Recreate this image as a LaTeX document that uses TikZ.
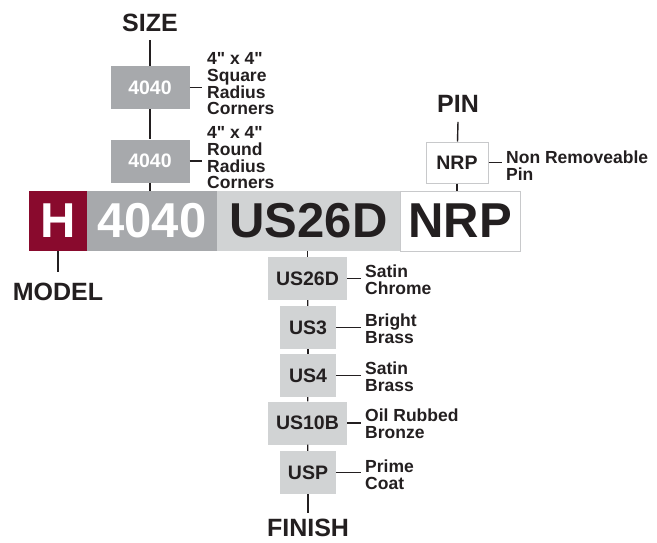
\documentclass[tikz,border=0pt]{standalone}
\usepackage{fontspec}
\setmainfont{Liberation Sans}[Ligatures=TeXOff]
\definecolor{ink}{RGB}{35,31,32}
\definecolor{midgray}{RGB}{167,169,172}
\definecolor{lgray}{RGB}{209,211,212}
\definecolor{bordergray}{RGB}{200,201,203}
\definecolor{maroonH}{RGB}{137,10,45}
\begin{document}
\begin{tikzpicture}[x=1pt,y=-1pt,
  conn/.style={draw=ink, line width=1.4pt},
  seg/.style={minimum height=60pt, inner sep=0pt, font=\fontsize{49}{49}\selectfont\bfseries},
  sbox/.style={fill=midgray, minimum width=79pt, minimum height=43pt, inner sep=0pt, text=white, font=\fontsize{19.5}{20}\selectfont\bfseries},
  fbox/.style={fill=lgray, minimum height=43pt, inner sep=0pt, text=ink, font=\fontsize{19.5}{20}\selectfont\bfseries},
  pbox/.style={fill=white, draw=bordergray, line width=1pt, minimum width=62pt, minimum height=41pt, inner sep=0pt, text=ink, font=\fontsize{19.5}{20}\selectfont\bfseries},
  lbl/.style={anchor=west, align=left, inner sep=0pt, text=ink, font=\fontsize{17.5}{16.7}\selectfont\bfseries},
  head/.style={inner sep=0pt, text=ink, font=\fontsize{25}{25}\selectfont\bfseries}
]
\useasboundingbox[fill=white] (0,0) rectangle (657,542);

% main bar
\node[seg, fill=maroonH, text=white, minimum width=58pt] (bH) at (58,221) {H};
\node[seg, fill=midgray, text=white, minimum width=130pt] (b4040) at (152,221) {4040};
\node[seg, fill=lgray, text=ink, minimum width=183pt] (bUS) at (308.5,221) {US26D};
\node[seg, fill=white, draw=bordergray, line width=1pt, text=ink, minimum width=120pt] (bNRP) at (460,221) {NRP};

% SIZE
\node[head] (size) at (150,23) {SIZE};
\node[sbox] (s1) at (150,87.5) {4040};
\node[sbox] (s2) at (150,161) {4040};
\node[lbl] (l1) at (207,84) {4" x 4"\\Square\\Radius\\Corners};
\node[lbl] (l2) at (207,158) {4" x 4"\\Round\\Radius\\Corners};
\draw[conn] ([yshift=-8pt]size.south) -- (s1);
\draw[conn] (s1) -- (s2);
\draw[conn] (s2.south) -- (s2.south |- b4040.north);
\draw[conn] (s1.east) -- ([xshift=-5pt]s1.east -| l1.west);
\draw[conn] (s2.east) -- ([xshift=-5pt]s2.east -| l2.west);

% PIN
\node[head] (pin) at (458,104) {PIN};
\node[pbox] (p1) at (457,162.5) {NRP};
\node[lbl] (pl) at (506,166) {Non Removeable\\Pin};
\draw[conn] ([yshift=-9pt]pin.south) -- (p1);
\draw[conn] (p1.south) -- (p1.south |- bNRP.north);
\draw[conn] (p1.east) -- ([xshift=-4pt]p1.east -| pl.west);

% MODEL
\node[head] (model) at (58,292) {MODEL};
\draw[conn] (bH.south) -- ([yshift=11pt]model.north);

% FINISH
\node[fbox, minimum width=79pt] (f1) at (307.5,278.5) {US26D};
\node[fbox, minimum width=56pt] (f2) at (308,327.5) {US3};
\node[fbox, minimum width=56pt] (f3) at (308,375.5) {US4};
\node[fbox, minimum width=79pt] (f4) at (307.5,423) {US10B};
\node[fbox, minimum width=56pt] (f5) at (308,472.5) {USP};
\node[head] (finish) at (308,527.5) {FINISH};
\draw[conn] (f1.north) -- (f1.north |- bUS.south);
\draw[conn] (f1) -- (f2);
\draw[conn] (f2) -- (f3);
\draw[conn] (f3) -- (f4);
\draw[conn] (f4) -- (f5);
\draw[conn] (f5.south) -- ([yshift=5pt]finish.north);

\node[lbl] (fl1) at (365,280) {Satin\\Chrome};
\node[lbl] (fl2) at (365,329) {Bright\\Brass};
\node[lbl] (fl3) at (365,376.5) {Satin\\Brass};
\node[lbl] (fl4) at (365,424) {Oil Rubbed\\Bronze};
\node[lbl] (fl5) at (365,475) {Prime\\Coat};
\draw[conn] (f1.east) -- ([xshift=-4pt]f1.east -| fl1.west);
\draw[conn] (f2.east) -- ([xshift=-4pt]f2.east -| fl2.west);
\draw[conn] (f3.east) -- ([xshift=-4pt]f3.east -| fl3.west);
\draw[conn] (f4.east) -- ([xshift=-4pt]f4.east -| fl4.west);
\draw[conn] (f5.east) -- ([xshift=-4pt]f5.east -| fl5.west);
\end{tikzpicture}
\end{document}
